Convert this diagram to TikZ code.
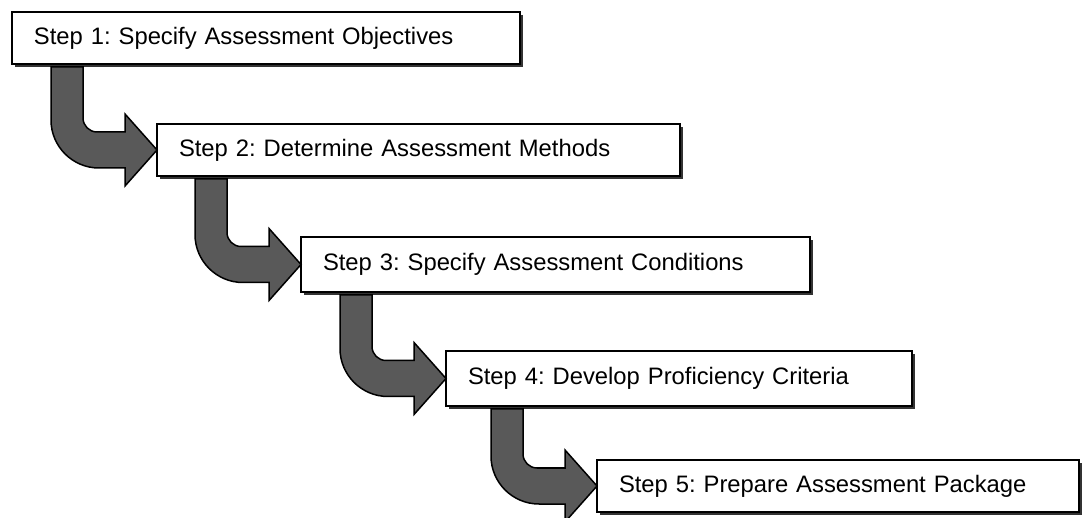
\documentclass[tikz,border=0pt]{standalone}
\usepackage{fontspec}
\setmainfont{Liberation Sans}
\usetikzlibrary{shadows, calc}
\frenchspacing

\begin{document}
\begin{tikzpicture}[x=1pt, y=1pt]
    \tikzstyle{stepbox} = [rectangle, draw=black, line width=1.5pt, fill=white, anchor=north west, minimum height=52pt, inner xsep=22pt, outer sep=0pt, align=left, font=\fontsize{23.8pt}{28pt}\selectfont, drop shadow={shadow xshift=3pt, shadow yshift=-3pt, fill=black!80, opacity=1}]
    \tikzstyle{bentarrow} = [draw=black, line width=1.5pt, fill=black!65, line join=miter]

    \useasboundingbox (0,0) rectangle (1082,-518);

    \node (s1) [stepbox, text width=464pt] at (12,-12) {Step 1: Specify Assessment Objectives};
    \node (s2) [stepbox, text width=479pt] at (157,-124) {Step 2: Determine Assessment Methods};
    \node (s3) [stepbox, text width=465pt, minimum height=55pt] at (301,-237) {Step 3: Specify Assessment Conditions};
    \node (s4) [stepbox, text width=422pt, minimum height=55pt] at (446,-351) {Step 4: Develop Proficiency Criteria};
    \node (s5) [stepbox, text width=438pt] at (597,-460) {Step 5: Prepare Assessment Package};

    % bent arrows from each step to the next one
    \foreach \a/\b in {s1/s2, s2/s3, s3/s4, s4/s5}
        \draw [bentarrow] let \p1 = (\b.west), \p2 = (\a.south) in
            (\x1-106pt, \y2-3pt) -- (\x1-106pt, \y1+30pt)
            .. controls (\x1-106pt, \y1+3.5pt) and (\x1-84.5pt, \y1-18pt) .. (\x1-58pt, \y1-18pt)
            -- (\x1-32pt, \y1-18pt) -- (\x1-32pt, \y1-36pt) -- (\x1, \y1)
            -- (\x1-32pt, \y1+36pt) -- (\x1-32pt, \y1+18pt) -- (\x1-60pt, \y1+18pt)
            .. controls (\x1-67.7pt, \y1+18pt) and (\x1-74pt, \y1+24.3pt) .. (\x1-74pt, \y1+32pt)
            -- (\x1-74pt, \y2-3pt) -- cycle;
\end{tikzpicture}
\end{document}
